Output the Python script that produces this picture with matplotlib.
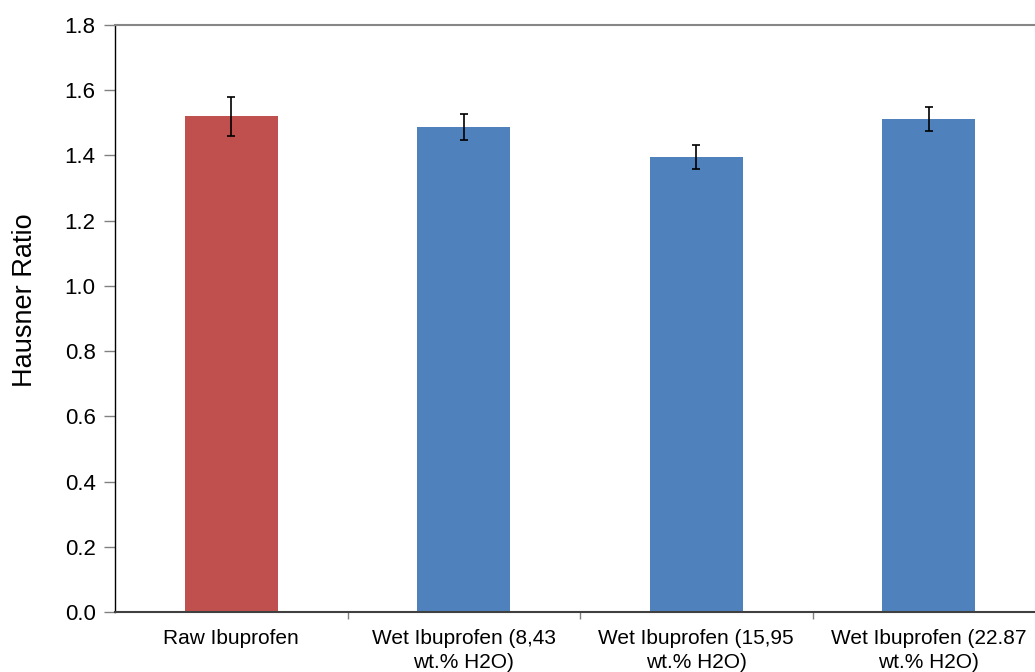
import matplotlib
matplotlib.use("Agg")
import matplotlib.pyplot as plt
import numpy as np

plt.rcParams['font.family'] = ['Liberation Sans', 'DejaVu Sans']

categories = ["Raw Ibuprofen",
              "Wet Ibuprofen (8,43\nwt.% H2O)",
              "Wet Ibuprofen (15,95\nwt.% H2O)",
              "Wet Ibuprofen (22.87\nwt.% H2O)"]
hausner = [1.52, 1.487, 1.395, 1.511]
errors = [0.06, 0.039, 0.038, 0.037]
bar_colors = ["#C0504D", "#4F81BD", "#4F81BD", "#4F81BD"]
yticks = [0.0, 0.2, 0.4, 0.6, 0.8, 1.0, 1.2, 1.4, 1.6, 1.8]

fig = plt.figure(figsize=(10.35, 6.72), dpi=100)
ax = fig.add_axes([115 / 1035, 1 - 612 / 672, 930 / 1035, 587 / 672])

x = np.arange(len(categories))
ax.bar(x, hausner, width=0.4, color=bar_colors, zorder=2)
ax.errorbar(x, hausner, yerr=errors, fmt='none', ecolor='black',
            elinewidth=1.2, capsize=3, capthick=1.2, zorder=3)

ax.set_xlim(-0.5, len(categories) - 0.5)
ax.set_ylim(0, 1.8)
ax.set_yticks(yticks)
ax.set_yticklabels([f"{v:.1f}" for v in yticks], fontsize=16)

# category labels centred, tick marks on the category boundaries
ax.set_xticks(x)
ax.set_xticklabels(categories, fontsize=15, linespacing=1.35)
ax.tick_params(axis='x', which='major', length=0, pad=12)
ax.set_xticks(np.arange(0.5, len(categories) - 0.5, 1.0), minor=True)
ax.tick_params(axis='x', which='minor', length=5, color='#808080', width=1)
ax.tick_params(axis='y', length=8, color='#808080', width=1, pad=6)

ax.set_ylabel("Hausner Ratio", fontsize=19.5)
ax.yaxis.set_label_coords(-0.0825, 0.531)

ax.spines['right'].set_visible(False)
ax.spines['top'].set_color('#868686')
ax.spines['top'].set_linewidth(1.5)
ax.spines['left'].set_color('black')
ax.spines['left'].set_linewidth(1)
ax.spines['bottom'].set_color('#404040')
ax.spines['bottom'].set_linewidth(1.5)

fig.savefig("out.png", dpi=100)
